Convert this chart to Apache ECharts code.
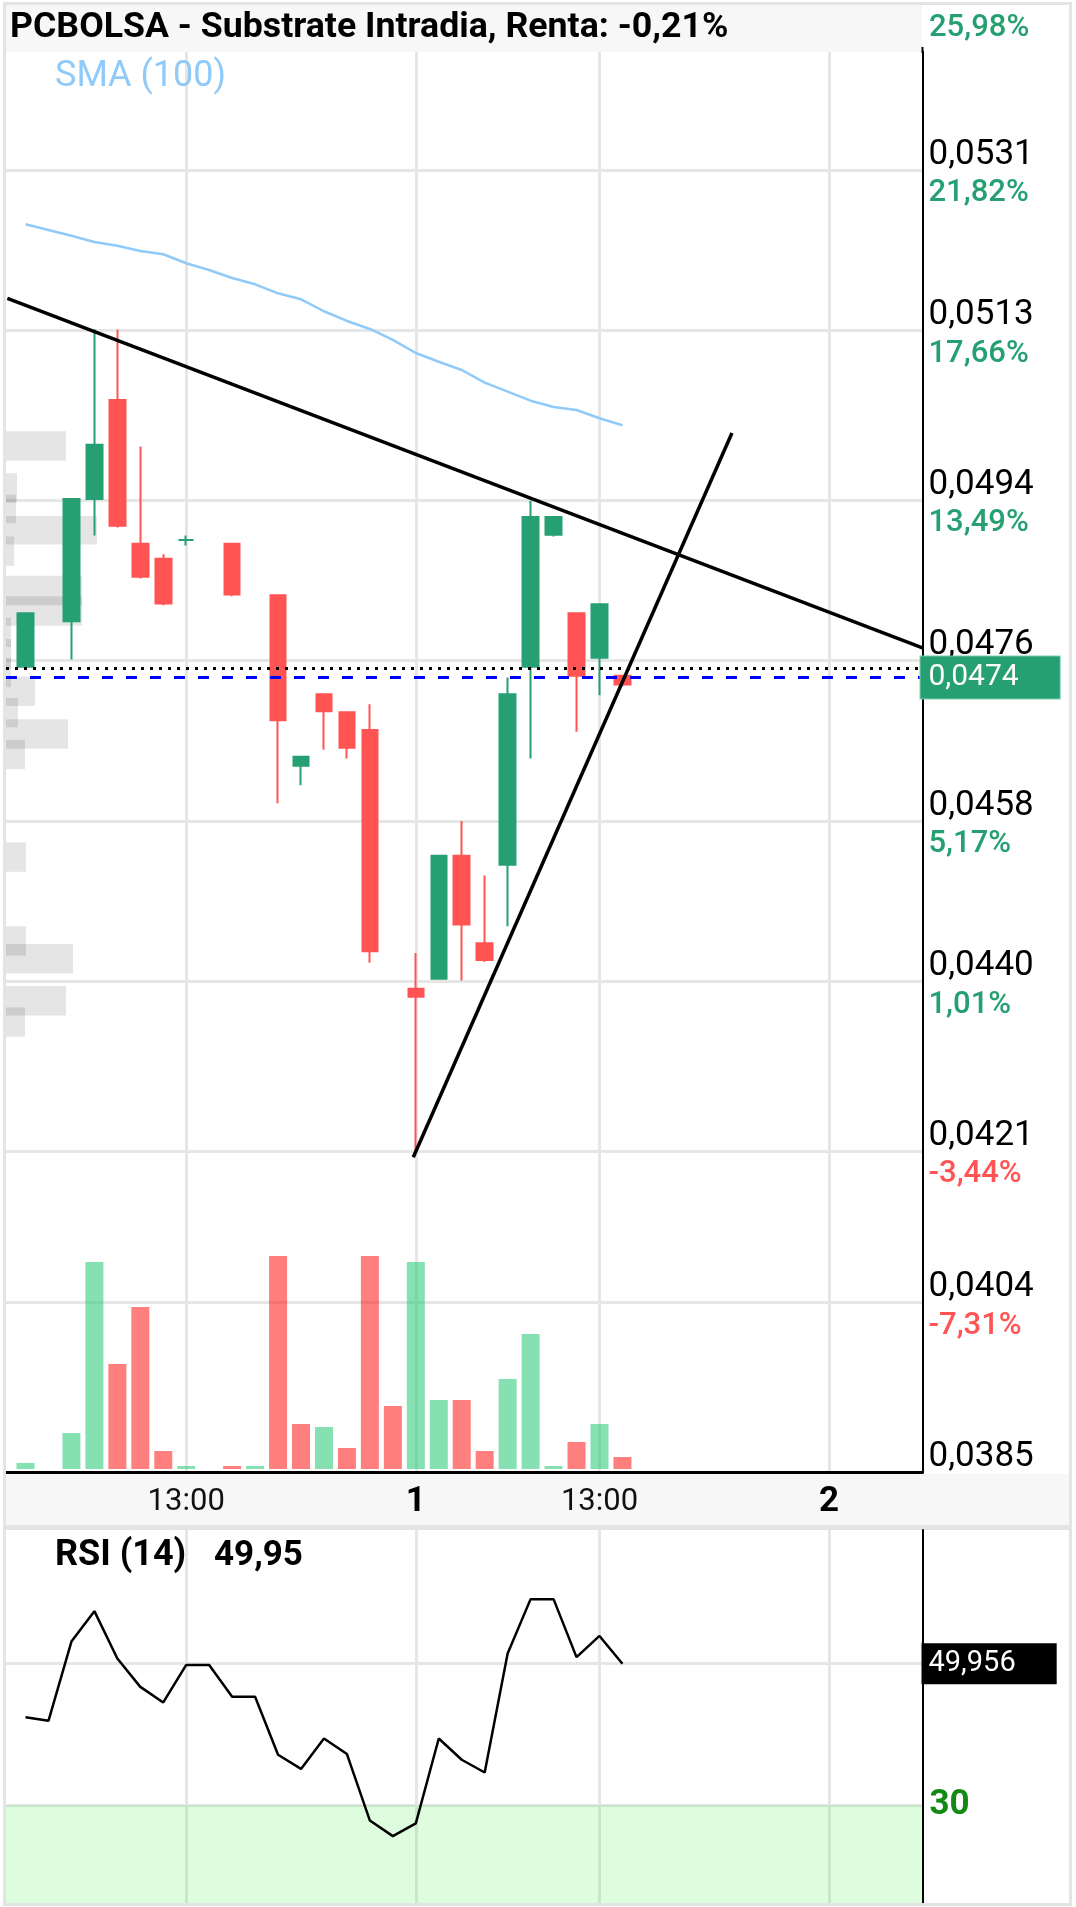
<!DOCTYPE html>
<html><head><meta charset="utf-8">
<script src="https://cdn.jsdelivr.net/npm/echarts@6/dist/echarts.min.js"></script>
<style>html,body{margin:0;padding:0;background:#fff}#c{width:1076px;height:1907px}</style>
</head><body><div id="c"></div>
<script>
// ---------- data ----------
const titleText = 'PCBOLSA - Substrate Intradia, Renta: -0,21%';
const smaLabel = 'SMA (100)';
const rsiName = 'RSI (14)';
const rsiShort = '49,95';
const priceTicks = [0.0385, 0.0404, 0.0421, 0.0440, 0.0458, 0.0476, 0.0494, 0.0513, 0.0531];
const pctLabels  = ['', '-7,31%', '-3,44%', '1,01%', '5,17%', '9,33%', '13,49%', '17,66%', '21,82%'];
const topPctLabel = '25,98%';
const xTickSlots  = [7, 17, 25, 35];
const xTickLabels = ['13:00', '1', '13:00', '2'];
const rsiTicks = [30, 50];
const rsiLabelTicks = [30];

// one entry per 30-minute slot (null = no candle)
const candleOpen  = [0.04753,null,0.04804,0.04941,0.05052,0.04891,0.04874,0.04895,null,0.04891,null,0.04833,0.04642,0.04722,0.04702,0.04682,null,0.04392,0.04403,0.04541,0.04443,0.04531,0.04753,0.04901,0.04813,0.04763,0.04743];
const candleClose = [0.04813,null,0.04941,0.05002,0.04911,0.04854,0.04824,0.04895,null,0.04834,null,0.04693,0.04652,0.04703,0.04662,0.04434,null,0.04383,0.04541,0.04464,0.04424,0.04722,0.04921,0.04921,0.04743,0.04823,0.04733];
const candleLow   = [0.04752,null,0.04761,0.04900,0.04909,0.04852,0.04822,0.04889,null,0.04832,null,0.04600,0.04620,0.04660,0.04650,0.04421,null,0.04211,0.04402,0.04401,0.04422,0.04462,0.04650,0.04899,0.04680,0.04721,0.04731];
const candleHigh  = [0.04813,null,0.04941,0.05131,0.05131,0.05000,0.04879,0.04900,null,0.04891,null,0.04833,0.04652,0.04722,0.04702,0.04711,null,0.04432,0.04541,0.04580,0.04519,0.04741,0.04939,0.04921,0.04813,0.04823,0.04743];
const volumes = [6000,null,36000,207000,105000,162000,18000,3000,null,3000,3000,213000,45000,42000,21000,213000,63000,207000,69000,69000,18000,90000,135000,3000,27000,45000,12000];
const volUp   = [1,0,1,1,0,0,0,1,0,0,1,0,0,1,0,0,0,1,1,0,0,1,1,1,0,1,0];
const sma100 = [0.052491,0.052427,0.052363,0.052293,0.052251,0.052192,0.052155,0.052054,0.051979,0.051889,0.051818,0.051717,0.05165,0.051516,0.051407,0.051317,0.051194,0.051048,0.05095,0.050857,0.050715,0.050614,0.050513,0.050443,0.050409,0.050316,0.050237];
const rsi14 = [42.4,41.9,53.1,57.4,50.7,46.7,44.5,49.8,49.8,45.3,45.3,37.1,35.1,39.4,37.2,27.8,25.6,27.4,39.4,36.4,34.6,51.4,59.1,59.1,50.9,53.9,49.956];
const rsiLastLabel = '49,956';
// volume-at-price profile
const profileLow  = [0.04984,0.04937,0.04914,0.04890,0.04866,0.04822,0.04799,0.04775,0.04751,0.04730,0.04709,0.04685,0.04661,0.04638,0.04523,0.04429,0.04409,0.04362,0.04338];
const profileHigh = [0.05017,0.04970,0.04946,0.04922,0.04899,0.04855,0.04832,0.04808,0.04784,0.04763,0.04742,0.04718,0.04694,0.04671,0.04556,0.04462,0.04442,0.04395,0.04371];
const profileVol  = [60,11,10,91,8,76,76,5,5,5,29,12,62,19,20,20,67,60,19];
// drawn trend lines (slot, price)
const trendDown = [[-0.79, 0.05166], [39.07, 0.04774]];
const trendUp   = [[16.89, 0.04203], [30.77, 0.05015]];
const refClose  = 0.04751;
const lastPrice = 0.04741;
const lastPriceLabel = '0,0474';

// ---------- chart ----------
const GREEN = '#26a073', RED = '#ff5453';
const VGREEN = 'rgba(40,200,120,0.57)', VRED = 'rgba(255,0,0,0.5)';
const GRID = '#e6e6e6';
const FONT = 'Roboto';
const fmtPrice = v => v.toFixed(4).replace('.', ',');

const candleData = [];
candleOpen.forEach((o, i) => { if (o != null) candleData.push([i, o, candleClose[i], candleLow[i], candleHigh[i]]); });
const volData = [];
volumes.forEach((v, i) => { if (v != null) volData.push({ value: [i, v], itemStyle: { color: volUp[i] ? VGREEN : VRED } }); });

const chart = echarts.init(document.getElementById('c'), null, { renderer: 'canvas', width: 1076, height: 1907 });
const option = {
  animation: false,
  backgroundColor: '#fff',
  textStyle: { fontFamily: FONT },
  grid: [
    { left: 6, top: 52, width: 916.5, height: 1420, containLabel: false, outerBoundsMode: 'none' },
    { left: 6, top: 1530, width: 916.5, height: 375, containLabel: false, outerBoundsMode: 'none' }
  ],
  xAxis: [
    { type: 'value', gridIndex: 0, min: -0.85, max: 39.07, position: 'bottom',
      axisLine: { show: true, onZero: false, lineStyle: { color: '#000', width: 3 } },
      axisTick: { show: false, customValues: xTickSlots },
      axisLabel: { customValues: xTickSlots, margin: 10,
        formatter: v => { const k = xTickSlots.indexOf(Math.round(v)); const t = xTickLabels[k] || ''; return t.indexOf(':') >= 0 ? '{t|' + t + '}' : '{d|' + t + '}'; },
        rich: { t: { fontSize: 31, color: '#111', lineHeight: 40, fontFamily: FONT },
                d: { fontSize: 35, fontWeight: 'bold', color: '#000', lineHeight: 40, fontFamily: FONT } } },
      splitLine: { show: true, lineStyle: { color: GRID, width: 3 } } },
    { type: 'value', gridIndex: 1, min: -0.85, max: 39.07,
      axisLine: { show: false }, axisTick: { show: false, customValues: xTickSlots }, axisLabel: { show: false },
      splitLine: { show: true, lineStyle: { color: GRID, width: 3 } } },
    { type: 'value', gridIndex: 0, min: 0, max: 916.5, show: false }
  ],
  yAxis: [
    { type: 'value', gridIndex: 0, position: 'right', min: 0.0385, max: 0.054423,
      axisLine: { show: true, onZero: false, lineStyle: { color: '#000', width: 2 } },
      axisTick: { show: false, customValues: priceTicks },
      axisLabel: { customValues: priceTicks, margin: 6, padding: [8.5, 0, 0, 0],
        formatter: v => {
          const k = priceTicks.findIndex(t => Math.abs(t - v) < 1e-7);
          const pct = (k >= 0 && pctLabels[k]) ? pctLabels[k] : ' ';
          const s = pct.charAt(0) === '-' ? 'dn' : 'up';
          return '{p|' + fmtPrice(v) + '}\n{' + s + '|' + pct + '}';
        },
        rich: { p: { fontSize: 35, color: '#000', lineHeight: 38.5, fontFamily: FONT },
                up: { fontSize: 31, color: GREEN, lineHeight: 38.5, fontWeight: 500, fontFamily: FONT },
                dn: { fontSize: 31, color: RED, lineHeight: 38.5, fontWeight: 500, fontFamily: FONT } } },
      splitLine: { show: true, lineStyle: { color: GRID, width: 3 } } },
    { type: 'value', gridIndex: 0, min: -3000, max: 1417000, show: false },
    { type: 'value', gridIndex: 1, position: 'right', min: 15.87, max: 68.87,
      axisLine: { show: true, onZero: false, lineStyle: { color: '#000', width: 2 } },
      axisTick: { show: false, customValues: rsiTicks },
      axisLabel: { customValues: rsiLabelTicks, margin: 7, color: '#138a13', fontSize: 35, fontWeight: 'bold', fontFamily: FONT },
      splitLine: { show: true, lineStyle: { color: GRID, width: 3 } } }
  ],
  series: [
    { type: 'custom', name: 'profile', xAxisIndex: 2, yAxisIndex: 0, z: 1, silent: true,
      encode: { x: 0, y: 1 },
      data: profileVol.map((w, i) => [w, profileLow[i], profileHigh[i]]),
      renderItem: (params, api) => {
        const a = api.coord([0, api.value(2)]);
        const b = api.coord([api.value(0), api.value(1)]);
        return { type: 'rect', shape: { x: a[0], y: a[1], width: b[0] - a[0], height: b[1] - a[1] }, style: { fill: 'rgba(0,0,0,0.1)' } };
      } },
    { type: 'bar', name: 'volume', xAxisIndex: 0, yAxisIndex: 1, barWidth: 18, z: 2, silent: true, data: volData },
    { type: 'candlestick', name: 'price', xAxisIndex: 0, yAxisIndex: 0, barWidth: 16, z: 3, silent: true,
      itemStyle: { color: GREEN, color0: RED, borderColor: GREEN, borderColor0: RED, borderColorDoji: GREEN, borderWidth: 2 },
      data: candleData },
    { type: 'line', name: 'SMA', xAxisIndex: 0, yAxisIndex: 0, z: 6, symbol: 'none', silent: true,
      lineStyle: { color: '#90caf9', width: 2.5 },
      data: sma100.map((v, i) => [i, v]),
      markLine: { silent: true, precision: 6, symbol: ['none', 'none'],
        data: [
          { yAxis: refClose, lineStyle: { color: '#000', type: [3, 6], width: 3 }, label: { show: false } },
          { yAxis: lastPrice, lineStyle: { color: '#0000ff', type: [11, 13], width: 3 },
            label: { show: true, position: 'end', distance: -2, formatter: lastPriceLabel, color: '#fff', fontSize: 30, fontFamily: FONT,
              lineHeight: 32, backgroundColor: GREEN, borderColor: '#7dcfae', borderWidth: 1, padding: [5, 41, 5, 8] } }
        ] } },
    { type: 'line', name: 'trendDown', xAxisIndex: 0, yAxisIndex: 0, z: 5, symbol: 'none', silent: true,
      lineStyle: { color: '#000', width: 3.5 }, data: trendDown },
    { type: 'line', name: 'trendUp', xAxisIndex: 0, yAxisIndex: 0, z: 5, symbol: 'none', silent: true,
      lineStyle: { color: '#000', width: 3.5 }, data: trendUp },
    { type: 'line', name: 'RSI', xAxisIndex: 1, yAxisIndex: 2, z: 4, symbol: 'none', silent: true,
      lineStyle: { color: '#000', width: 2.5 },
      data: rsi14.map((v, i) => [i, v]),
      markArea: { silent: true, itemStyle: { color: 'rgba(0,230,0,0.13)' }, data: [[{ yAxis: 30 }, { yAxis: 15.87 }]] },
      markLine: { silent: true, precision: 6, symbol: ['none', 'none'],
        data: [{ yAxis: rsi14[rsi14.length - 1], lineStyle: { width: 1, color: 'rgba(0,0,0,0)' },
          label: { show: true, position: 'end', distance: -1, formatter: rsiLastLabel, color: '#fff', fontSize: 29, fontFamily: FONT,
            lineHeight: 31, backgroundColor: '#000', padding: [5, 41, 5, 7] } }] } }
  ],
  graphic: [
    { type: 'rect', z: -10, silent: true, shape: { x: 4, y: 3, width: 918, height: 49 }, style: { fill: '#f7f7f7' } },
    { type: 'rect', z: -10, silent: true, shape: { x: 4, y: 1474, width: 1067, height: 52 }, style: { fill: '#f7f7f7' } },
    { type: 'rect', z: -9, silent: true, shape: { x: 4, y: 1525, width: 1067, height: 5 }, style: { fill: '#e4e4e4' } },
    { type: 'rect', z: 100, silent: true, shape: { x: 4.5, y: 3.5, width: 1066, height: 1901 }, style: { fill: null, stroke: '#e4e4e4', lineWidth: 3 } },
    { type: 'line', z: 100, silent: true, shape: { x1: 922.5, y1: 47, x2: 922.5, y2: 53 }, style: { stroke: '#000', lineWidth: 2 } },
    { type: 'text', z: 100, silent: true, x: 10, y: 28, style: { text: titleText, font: 'bold 35.7px Roboto', fill: '#000', verticalAlign: 'middle' } },
    { type: 'text', z: 100, silent: true, x: 929, y: 28, style: { text: topPctLabel, font: '500 31px Roboto', fill: GREEN, verticalAlign: 'middle' } },
    { type: 'text', z: 100, silent: true, x: 55, y: 77, style: { text: smaLabel, font: '36px Roboto', fill: '#90caf9', verticalAlign: 'middle' } },
    { type: 'text', z: 100, silent: true, x: 55, y: 1556, style: { text: rsiName, font: 'bold 36px Roboto', fill: '#000', verticalAlign: 'middle' } },
    { type: 'text', z: 100, silent: true, x: 214, y: 1556, style: { text: rsiShort, font: 'bold 35px Roboto', fill: '#000', verticalAlign: 'middle' } }
  ]
};
chart.setOption(option);
</script>
</body></html>
